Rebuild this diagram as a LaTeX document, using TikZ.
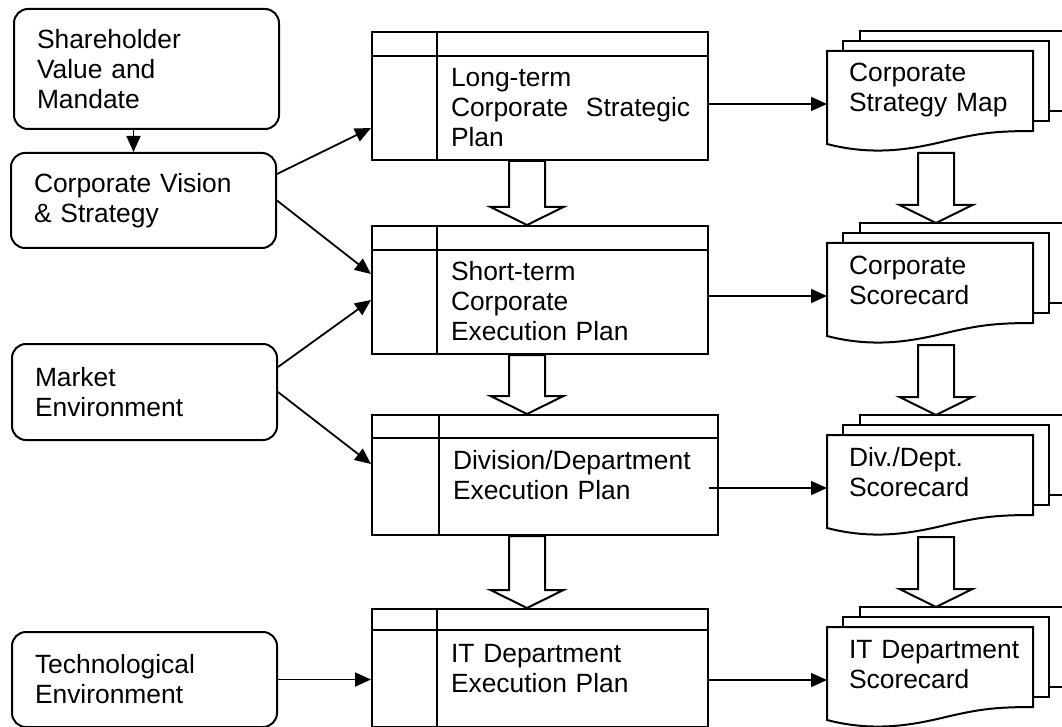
\documentclass[tikz,border=0pt]{standalone}
\usepackage{fontspec}
\setmainfont{Liberation Sans}
\usetikzlibrary{positioning,arrows.meta,calc}

\newcommand{\fatarrow}[2]{%
	\draw[fatline] let \p1=(#1), \p2=(#2) in
	(\x1-18pt,\y1) -- (\x1+18pt,\y1) -- (\x1+18pt,\y2+18pt) -- (\x1+36.5pt,\y2+18pt)
	-- (\x1,\y2) -- (\x1-36.5pt,\y2+18pt) -- (\x1-18pt,\y2+18pt) -- cycle;}

\begin{document}
\begin{tikzpicture}[
	x=1pt,y=-1pt,
	line width=2pt,
	font=\fontsize{26.4pt}{30pt}\selectfont,
	envbox/.style={draw,rounded corners=14pt,anchor=north west,minimum width=265pt,text width=219pt,align=left,inner sep=0pt},
	planbox/.style={draw,anchor=north west,minimum width=336pt,inner sep=0pt},
	plantext/.style={anchor=base west,text width=250pt,align=left,inner sep=0pt},
	docpage/.style={draw,fill=white},
	docnode/.style={anchor=north west,minimum width=206pt,minimum height=104pt,inner sep=0pt},
	doctext/.style={anchor=base west,text width=180pt,align=left,inner sep=0pt},
	fatline/.style={draw,fill=white},
	conn/.style={line width=1.8pt,-{Triangle[length=16pt,width=14pt]}}
	]
	\useasboundingbox (0,0) rectangle (1062,727);
	\clip (0,0) rectangle (1062,727);
	\node[envbox,minimum height=120pt] (share) at (13,8) {Shareholder\\Value and\\Mandate};
	\node[envbox,minimum height=95pt] (vision) at (10,152) {Corporate Vision\\\& Strategy};
	\node[envbox,minimum height=96pt] (market) at (11,343) {Market\\Environment};
	\node[envbox,minimum height=95pt] (tech) at (11,631) {Technological\\Environment};
	\node[planbox,minimum height=128pt] (ltplan) at (371,31) {};
	\node[planbox,minimum height=128pt,below=64pt of ltplan] (stplan) {};
	\node[planbox,minimum height=120pt,minimum width=346pt] (divplan) at (371,414) {};
	\node[planbox,minimum height=118pt] (itplan) at (371,608) {};
	\foreach \b/\h/\d in {ltplan/25/66,stplan/25/66,divplan/24/68,itplan/22/66}{
		\draw ([yshift=-\h pt]\b.north west) -- ([yshift=-\h pt]\b.north east);
		\draw ([xshift=\d pt]\b.north west) -- ([xshift=\d pt]\b.south west);
	}
	\node[plantext] (lttxt) at ([shift={(79,56)}]ltplan.north west) {Long-term\\Corporate~ Strategic\\Plan};
	\node[plantext] (sttxt) at ([shift={(79,55)}]stplan.north west) {Short-term\\Corporate\\Execution Plan};
	\node[plantext] (divtxt) at ([shift={(81,55)}]divplan.north west) {Division/Department\\Execution Plan};
	\node[plantext] (ittxt) at ([shift={(79,54)}]itplan.north west) {IT Department\\Execution Plan};
	\foreach \n/\y/\t in {smap/51/{Corporate\\Strategy Map},corpcard/243/{Corporate\\Scorecard},divcard/435/{Div./Dept.\\Scorecard},itcard/627/{IT Department\\Scorecard}}{
		\begin{scope}[shift={(827,\y)}]
			\draw[docpage] (33,-20) rectangle (250,60);
			\draw[docpage] (16,-10) rectangle (222,70);
			\draw[docpage] (0,0) -- (206,0) -- (206,80) .. controls (165,80) and (150,83) .. (123,89)
			.. controls (90,97) and (50,106) .. (0,93) -- cycle;
			\node[docnode] (\n) at (0,0) {};
			\node[doctext] (\n-txt) at (21,31) {\t};
		\end{scope}
	}
	\fatarrow{[xshift=156pt]ltplan.south west}{[xshift=156pt]stplan.north west}
	\fatarrow{[xshift=156pt]stplan.south west}{[xshift=156pt]divplan.north west}
	\fatarrow{[xshift=156pt]divplan.south west}{[xshift=156pt]itplan.north west}
	\fatarrow{[xshift=5pt,yshift=4pt]smap.south}{[xshift=5pt,yshift=20pt]corpcard.north}
	\fatarrow{[xshift=5pt,yshift=4pt]corpcard.south}{[xshift=5pt,yshift=20pt]divcard.north}
	\fatarrow{[xshift=5pt,yshift=4pt]divcard.south}{[xshift=5pt,yshift=20pt]itcard.north}
	\path[conn]
	([xshift=-13pt]share.south) edge ([xshift=-13pt]share.south |- vision.north)
	([yshift=26.5pt]vision.east) edge ([yshift=-32pt]ltplan.west)
	(vision.east) edge ([yshift=16pt]stplan.west)
	([yshift=25pt]market.east) edge ([yshift=-10pt]stplan.west)
	(market.east) edge ([yshift=11pt]divplan.west)
	(tech.east) edge (tech.east -| itplan.west)
	(smap.west -| ltplan.east) edge (smap.west)
	(corpcard.west -| stplan.east) edge (corpcard.west)
	([xshift=-10pt]divplan.east |- divcard.west) edge (divcard.west)
	(itcard.west -| itplan.east) edge (itcard.west);
\end{tikzpicture}
\end{document}
